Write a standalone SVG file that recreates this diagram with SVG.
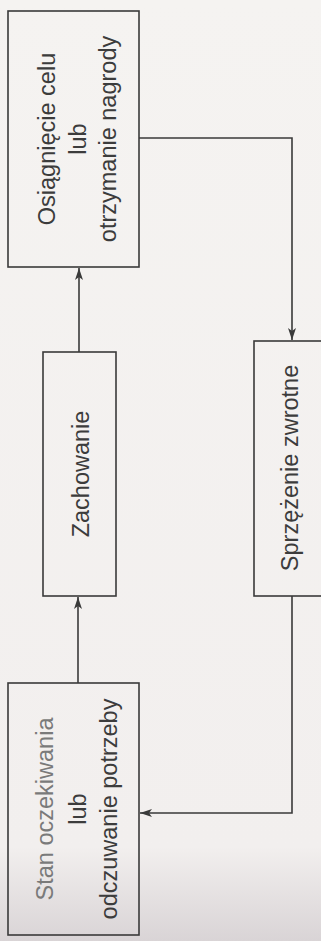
<svg xmlns="http://www.w3.org/2000/svg" width="321" height="941" viewBox="0 0 321 941">
<defs>
<linearGradient id="bg" x1="0" y1="0" x2="0" y2="1">
<stop offset="0" stop-color="#f5f3f1"/>
<stop offset="0.9" stop-color="#f2efee"/>
<stop offset="1" stop-color="#d9d4d6"/>
</linearGradient>
<marker id="arr" viewBox="0 0 12 8" refX="12" refY="4" markerWidth="12" markerHeight="8" markerUnits="userSpaceOnUse" orient="auto">
<path d="M0,0 L12,4 L0,8 L3,4 Z" fill="#3a3a3a"/>
</marker>
<style>
.box{fill:none;stroke:#3a3a3a;stroke-width:1.6}
.t{font-family:"Liberation Sans",Arial,sans-serif;font-size:23.5px;fill:#3c3c3c;text-anchor:middle}
.faded{fill:#7a7a7a}
.c{fill:none;stroke:#3a3a3a;stroke-width:1.6}
</style>
</defs>
<rect x="0" y="0" width="321" height="941" fill="url(#bg)"/>
<g id="connectors">
<path class="c" d="M78,683 L78,597" marker-end="url(#arr)"/>
<path class="c" d="M79,352 L79,268" marker-end="url(#arr)"/>
<path class="c" d="M139,138 L292,138 L292,340" marker-end="url(#arr)"/>
<path class="c" d="M292,596 L292,813 L140,813" marker-end="url(#arr)"/>
</g>
<g id="node-goal">
<rect class="box" x="8" y="11" width="131" height="256"/>
<g transform="translate(55,139) rotate(-90)"><text class="t" x="0" y="0">Osiągnięcie celu</text></g>
<g transform="translate(86,139) rotate(-90)"><text class="t" x="0" y="0">lub</text></g>
<g transform="translate(116,139) rotate(-90)"><text class="t" x="0" y="0">otrzymanie nagrody</text></g>
</g>
<g id="node-behavior">
<rect class="box" x="43" y="352" width="73" height="244"/>
<g transform="translate(89,474) rotate(-90)"><text class="t" x="0" y="0">Zachowanie</text></g>
</g>
<g id="node-feedback">
<rect class="box" x="254" y="341" width="90" height="255"/>
<g transform="translate(298,468) rotate(-90)"><text class="t" x="0" y="0">Sprzężenie zwrotne</text></g>
</g>
<g id="node-need">
<rect class="box" x="8" y="683" width="131" height="252"/>
<g transform="translate(53,809) rotate(-90)"><text class="t faded" x="0" y="0">Stan oczekiwania</text></g>
<g transform="translate(86,809) rotate(-90)"><text class="t" x="0" y="0">lub</text></g>
<g transform="translate(117,809) rotate(-90)"><text class="t" x="0" y="0">odczuwanie potrzeby</text></g>
</g>
</svg>
